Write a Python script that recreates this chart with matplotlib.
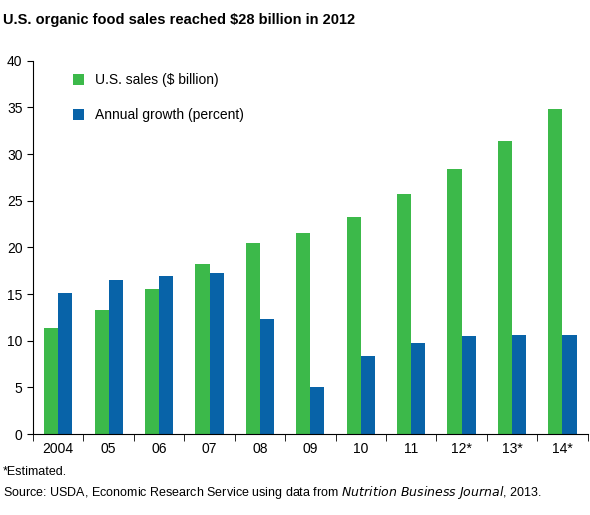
import matplotlib
matplotlib.use("Agg")
import matplotlib.pyplot as plt
import numpy as np

years = ["2004", "05", "06", "07", "08", "09", "10", "11", "12*", "13*", "14*"]
sales = [11.4, 13.3, 15.5, 18.2, 20.5, 21.5, 23.3, 25.7, 28.4, 31.4, 34.8]
growth = [15.1, 16.5, 16.9, 17.3, 12.3, 5.1, 8.4, 9.8, 10.5, 10.6, 10.6]

plt.rcParams['font.family'] = ['Liberation Sans', 'DejaVu Sans']
fig = plt.figure(figsize=(5.9, 5.15), dpi=100)
ax = fig.add_axes([0.056, 0.157, 0.94, 0.725])
x = np.arange(len(years))
w = 0.28
ax.bar(x - w/2, sales, w, color="#3cb94a", label="U.S. sales ($ billion)")
ax.bar(x + w/2, growth, w, color="#0863a8", label="Annual growth (percent)")
ax.set_xlim(-0.5, len(years) - 0.5)
ax.set_ylim(0, 40)
ax.set_yticks(range(0, 41, 5))
ax.set_xticks(x)
ax.set_xticklabels(years)
ax.set_xticks(np.arange(-0.5, len(years)), minor=True)
ax.tick_params(axis='x', which='major', length=0, pad=6, labelsize=10)
ax.tick_params(axis='x', which='minor', length=5)
ax.tick_params(axis='y', length=4, labelsize=10)
for s in ["top", "right"]:
    ax.spines[s].set_visible(False)
ax.legend(loc="upper left", frameon=False, fontsize=10, handlelength=0.8,
          handleheight=0.8, labelspacing=1.5, bbox_to_anchor=(0.05, 1.0))
fig.text(0.005, 0.975, "U.S. organic food sales reached $28 billion in 2012",
         fontsize=10.5, fontweight="bold", va="top")
fig.text(0.005, 0.095, "*Estimated.", fontsize=9, va="top")
fig.text(0.005, 0.06, "Source: USDA, Economic Research Service using data from $\\it{Nutrition\\ Business\\ Journal}$, 2013.",
         fontsize=9, va="top")
fig.savefig("out.png", dpi=100)
